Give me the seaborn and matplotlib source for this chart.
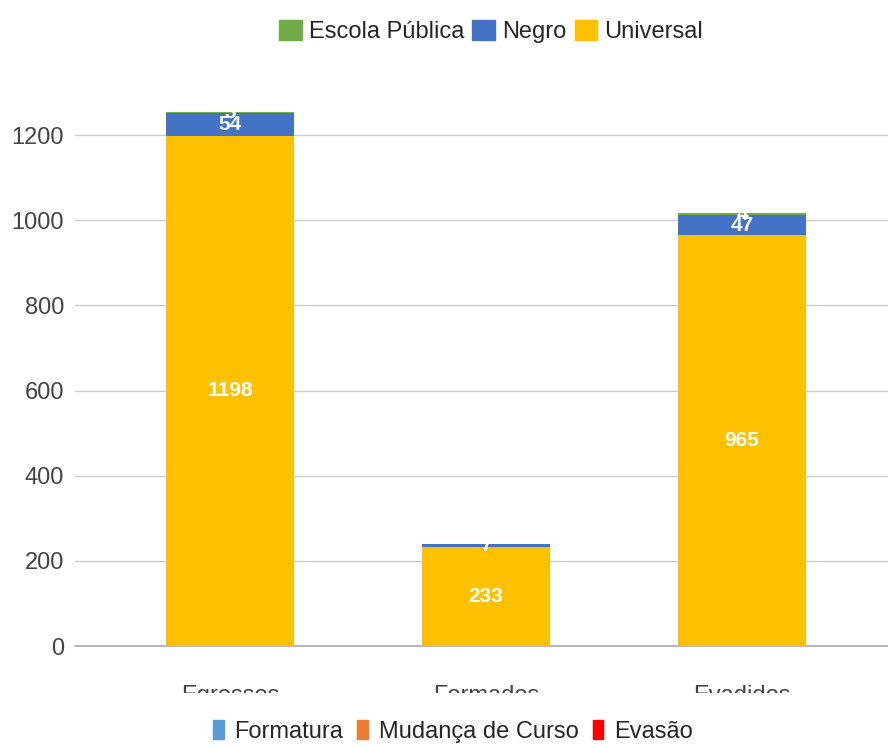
import numpy as np
import pandas as pd
import seaborn as sns
import matplotlib.pyplot as plt
from matplotlib.patches import Patch
from matplotlib.transforms import Bbox, TransformedBbox

categories = ["Egressos", "Formados", "Evadidos"]
universal = [1198, 233, 965]
negro = [54, 7, 47]
escola_publica = [3, 0, 4]
bottom_legend = ["Formatura", "Mudança de Curso", "Evasão"]

colors = {"Escola Pública": "#70ad47", "Negro": "#4472c4", "Universal": "#ffc000"}
bottom_colors = ["#5b9bd5", "#ed7d31", "#ff0000"]

sns.set_theme(style="white")
plt.rcParams["font.family"] = ["Liberation Sans", "DejaVu Sans"]

df = pd.DataFrame({"cat": categories, "Universal": universal,
                   "Negro": negro, "Escola Pública": escola_publica})
df["c1"] = df["Universal"]
df["c2"] = df["c1"] + df["Negro"]
df["c3"] = df["c2"] + df["Escola Pública"]

fig = plt.figure(figsize=(8.88, 7.47), dpi=100)
ax = fig.add_axes([0.0845, 0.1352, 0.9155, 0.7443])

# stacked: draw totals first, then lower layers on top
for col, key in [("c3", "Escola Pública"), ("c2", "Negro"), ("c1", "Universal")]:
    sns.barplot(data=df, x="cat", y=col, color=colors[key], width=0.5,
                saturation=1, linewidth=0, ax=ax, zorder=3)

# segment labels
for i, row in df.iterrows():
    segs = [(0, row["c1"], row["Universal"]),
            (row["c1"], row["c2"], row["Negro"]),
            (row["c2"], row["c3"], row["Escola Pública"])]
    for lo, hi, v in segs:
        if v > 0:
            ax.text(i, (lo + hi) / 2, str(v), ha="center", va="center",
                    color="white", fontsize=15, fontweight="bold", zorder=5)

ax.set_xlim(-0.605, 2.57)
ax.set_ylim(0, 1306)
ax.set_yticks([0, 200, 400, 600, 800, 1000, 1200])
ax.grid(axis="y", color="#cccccc", linewidth=1, zorder=0)
ax.set_axisbelow(True)
ax.axhline(0, color="#aaaaaa", linewidth=1.2, clip_on=False, zorder=2)
for s in ax.spines.values():
    s.set_visible(False)
ax.set_xlabel("")
ax.set_ylabel("")
ax.tick_params(axis="y", labelsize=17, labelcolor="#444444", length=0, pad=8)
ax.tick_params(axis="x", labelsize=17, labelcolor="#444444", length=0, pad=28)

# x labels are cut off in the original
clip = TransformedBbox(Bbox([[0, 0.0723], [1, 1]]), fig.transFigure)
for lab in ax.get_xticklabels():
    lab.set_va("top")
    lab.set_clip_on(True)
    lab.set_clip_box(clip)

top_handles = [Patch(color=colors[k]) for k in ["Escola Pública", "Negro", "Universal"]]
fig.legend(top_handles, ["Escola Pública", "Negro", "Universal"],
           loc="center", bbox_to_anchor=(0.553, 0.958), ncol=3, frameon=False,
           fontsize=17, handlelength=0.95, handleheight=0.95, handletextpad=0.3,
           columnspacing=0.35)

bot_handles = [Patch(color=c) for c in bottom_colors]
fig.legend(bot_handles, bottom_legend,
           loc="center", bbox_to_anchor=(0.51, 0.021), ncol=3, frameon=False,
           fontsize=17, handlelength=0.45, handleheight=0.9, handletextpad=0.45,
           columnspacing=0.6)

fig.savefig("out.png", dpi=100)
